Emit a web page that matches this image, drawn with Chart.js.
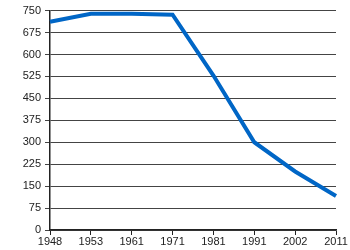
<!DOCTYPE html>
<html>
<head>
<meta charset="utf-8">
<script src="https://cdn.jsdelivr.net/npm/chart.js@4"></script>
<style>
  html, body { margin: 0; padding: 0; background: #fff; }
  #wrap { width: 350px; height: 250px; }
</style>
</head>
<body>
<div id="wrap"><canvas id="chart"></canvas></div>
<script>
const years = ['1948', '1953', '1961', '1971', '1981', '1991', '2002', '2011'];
const values = [712, 739, 739, 736, 528, 300, 200, 116];
const yTicks = [0, 75, 150, 225, 300, 375, 450, 525, 600, 675, 750];

new Chart(document.getElementById('chart'), {
    type: 'line',
    data: {
        labels: years,
        datasets: [{
            data: values,
            borderColor: '#0066c6',
            borderWidth: 4,
            pointRadius: 0,
            tension: 0,
            fill: false
        }]
    },
    options: {
        responsive: true,
        maintainAspectRatio: false,
        animation: false,
        layout: { padding: { top: 10, right: 14, left: 0, bottom: 0 } },
        plugins: { legend: { display: false }, tooltip: { enabled: false } },
        scales: {
            x: {
                offset: false,
                grid: { drawOnChartArea: false, drawTicks: true, tickLength: 5, color: '#222' },
                border: { color: '#222', width: 1.5 },
                ticks: {
                    color: '#222',
                    font: { family: 'Liberation Sans', size: 11 },
                    maxRotation: 0,
                    autoSkip: false,
                    padding: 0
                },
                afterFit: s => { s.height = 20; }
            },
            y: {
                min: 0,
                max: 750,
                afterBuildTicks: s => { s.ticks = yTicks.map(v => ({ value: v })); },
                grid: { color: '#444', tickLength: 5 },
                border: { color: '#222', width: 1.5 },
                ticks: {
                    color: '#222',
                    font: { family: 'Liberation Sans', size: 11 },
                    padding: 4
                },
                afterFit: s => { s.width = 50; }
            }
        }
    }
});
</script>
</body>
</html>
